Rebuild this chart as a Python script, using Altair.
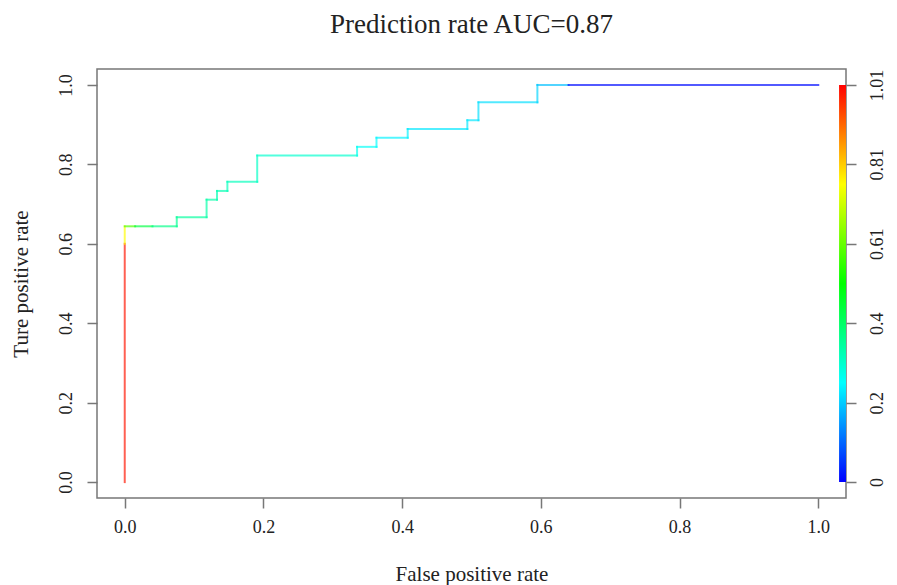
import altair as alt
import pandas as pd

# ROC step curve vertices (false positive rate, true positive rate) and cutoff at each vertex
fpr = [0.0, 0.0, 0.0, 0.015, 0.04, 0.075, 0.075, 0.118, 0.118, 0.133, 0.133, 0.148, 0.148,
       0.191, 0.191, 0.335, 0.335, 0.363, 0.363, 0.408, 0.408, 0.494, 0.494, 0.510, 0.510,
       0.595, 0.595, 0.640, 1.0]
tpr = [0.0, 0.600, 0.644, 0.644, 0.644, 0.644, 0.667, 0.667, 0.711, 0.711, 0.733, 0.733, 0.756,
       0.756, 0.822, 0.822, 0.844, 0.844, 0.867, 0.867, 0.889, 0.889, 0.911, 0.911, 0.956,
       0.956, 1.0, 1.0, 1.0]
cutoff = [1.01, 0.99, 0.76, 0.58, 0.44, 0.37, 0.36, 0.35, 0.34, 0.34, 0.33, 0.33, 0.32,
          0.32, 0.31, 0.30, 0.27, 0.26, 0.25, 0.24, 0.24, 0.23, 0.23, 0.23, 0.22,
          0.22, 0.21, 0.19, 0.01]

x_ticks = [0.0, 0.2, 0.4, 0.6, 0.8, 1.0]
y_ticks = [0.0, 0.2, 0.4, 0.6, 0.8, 1.0]
cbar_ticks = [0.0, 0.2, 0.4, 0.6, 0.8, 1.0]
cbar_labels = ["0", "0.2", "0.4", "0.61", "0.81", "1.01"]
cbar_x = [1.03, 1.04]
cbar_y = [0.0, 1.0]

rainbow_domain = [0.0, 0.2525, 0.505, 0.7575, 1.01]
rainbow_colors = ["#0000ff", "#00ffff", "#00ff00", "#ffff00", "#ff0000"]

FONT = "Liberation Serif"
GRAY = "#777777"
TXT = "#222222"

seg = pd.DataFrame({
    "x": fpr[:-1], "y": tpr[:-1],
    "x2": fpr[1:], "y2": tpr[1:],
    "c": cutoff[1:],
})

xscale = alt.Scale(domain=[-0.04, 1.04], nice=False, zero=False)
yscale = alt.Scale(domain=[-0.04, 1.04], nice=False, zero=False)

x_axis = alt.Axis(values=x_ticks, format=".1f", title="False positive rate",
                  grid=False, domain=False, tickSize=10, tickWidth=1.5, tickColor=GRAY,
                  labelFont=FONT, labelFontSize=18, labelColor=TXT, labelPadding=10,
                  titleFont=FONT, titleFontSize=21, titleFontWeight="normal",
                  titleColor=TXT, titleY=82, titleBaseline="alphabetic")

curve = alt.Chart(seg).mark_rule(strokeWidth=2, opacity=0.68, strokeCap="square").encode(
    x=alt.X("x:Q", scale=xscale, axis=x_axis),
    x2="x2:Q",
    y=alt.Y("y:Q", scale=yscale,
            axis=alt.Axis(values=y_ticks, format=".1f", title="Ture positive rate",
                          grid=False, domain=False, tickSize=10, tickWidth=1.5, tickColor=GRAY,
                          labelFont=FONT, labelFontSize=18, labelColor=TXT, labelPadding=12,
                          labelAngle=270, labelAlign="center", labelBaseline="bottom",
                          titleFont=FONT, titleFontSize=21, titleFontWeight="normal",
                          titleColor=TXT, titleX=-70, titleAngle=270,
                          titleBaseline="alphabetic")),
    y2="y2:Q",
    color=alt.Color("c:Q", scale=alt.Scale(domain=rainbow_domain, range=rainbow_colors,
                                           interpolate="rgb"), legend=None),
)

label_expr = "[" + ",".join("'" + s + "'" for s in cbar_labels) + "][round(datum.value*5)]"

cbar_df = pd.DataFrame({"x": [cbar_x[0]], "x2": [cbar_x[1]], "y": [cbar_y[0]], "y2": [cbar_y[1]]})
gradient = alt.LinearGradient(
    gradient="linear", x1=0, x2=0, y1=1, y2=0,
    stops=[alt.GradientStop(color=c, offset=i / (len(rainbow_colors) - 1))
           for i, c in enumerate(rainbow_colors)],
)
cbar = alt.Chart(cbar_df).mark_rect(color=gradient).encode(
    x=alt.X("x:Q", scale=xscale, axis=x_axis),
    x2="x2:Q",
    y=alt.Y("y:Q", scale=yscale,
            axis=alt.Axis(orient="right", values=cbar_ticks, labelExpr=label_expr, title=None,
                          grid=False, domain=False, tickSize=10, tickWidth=1.5, tickColor=GRAY,
                          labelFont=FONT, labelFontSize=18, labelColor=TXT, labelPadding=12,
                          labelAngle=270, labelAlign="center", labelBaseline="top")),
    y2="y2:Q",
)

chart = alt.layer(curve, cbar).resolve_axis(y="independent").properties(
    width=749, height=429,
    title=alt.TitleParams("Prediction rate AUC=0.87", font=FONT, fontSize=27,
                          fontWeight="normal", color=TXT, anchor="middle", frame="group",
                          offset=30),
    padding={"left": 89, "top": 61, "right": 42, "bottom": 88},
    autosize=alt.AutoSizeParams(type="none"),
    background="white",
).configure_view(stroke=GRAY, strokeWidth=1.5)

chart.save("out.html", embed_options={"renderer": "svg", "actions": False})
